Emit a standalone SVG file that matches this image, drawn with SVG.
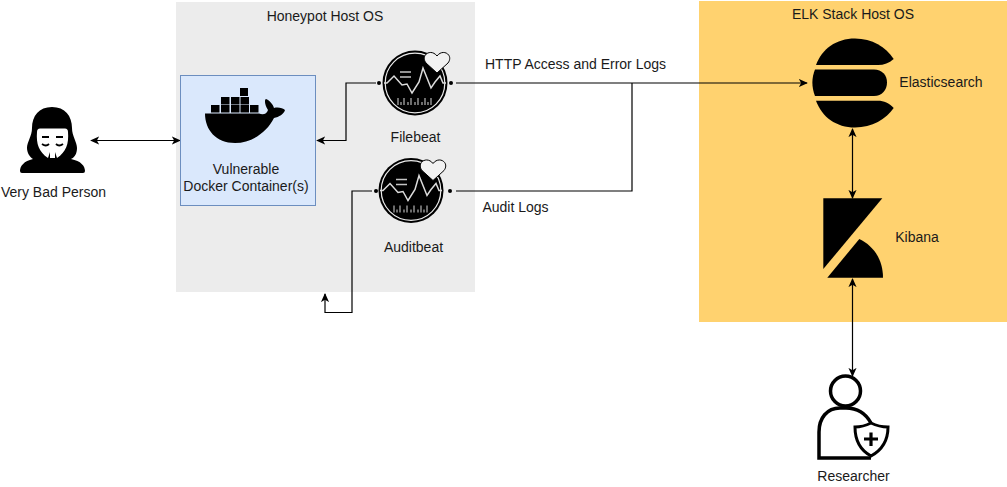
<svg xmlns="http://www.w3.org/2000/svg" xmlns:xlink="http://www.w3.org/1999/xlink" width="1007" height="487" viewBox="0 0 1007 487">
<style>
text{font-family:"Liberation Sans",Arial,sans-serif;font-size:14px;fill:#1a1a1a;text-anchor:middle}
.c{fill:none;stroke:#000;stroke-width:1.2}
</style>
<defs>
<marker id="a" viewBox="0 0 10 10" refX="9" refY="5" markerWidth="9" markerHeight="9" markerUnits="userSpaceOnUse" orient="auto-start-reverse"><path d="M0 0.5L10 5L0 9.5L2.5 5Z" fill="#000"/></marker>
<symbol id="beat" viewBox="-40 -36 80 72" overflow="visible">
<circle r="32.5" fill="#000"/>
<circle r="29.8" fill="none" stroke="#ececec" stroke-width="1.2"/>
<path d="M-30 0H-27L-20 -7L-12 2L-7 1L-2 10L5 -1L9 -15L13 -5L17 5L21 -1L26 -7L29 0H32" fill="none" stroke="#dcdcdc" stroke-width="1.5" transform="translate(-1 0)"/>
<path d="M-15 -11H-4M-15 -6H-4" stroke="#c4c4c4" stroke-width="1.5"/>
<path d="M-17 15V22M-14 19V22M-11 15V22M-7 19V22M-4 15V22M0 19V22M3 15V22M7 19V22M10 15V22M13 19V22M16 15V22" stroke="#d8d8d8" stroke-width="1"/>
<path d="M22 -10L11 -20C5 -28 16 -35 22 -27C28 -35 39 -28 33 -20Z" fill="#f2f2f2" stroke="#000" stroke-width="1"/>
</symbol>
</defs>
<rect id="honeypot-host" x="176" y="2" width="299" height="290" fill="#ececec"/>
<rect id="elk-host" x="699" y="1" width="308" height="321" fill="#ffd26f"/>
<g id="connectors">
<path class="c" marker-start="url(#a)" marker-end="url(#a)" d="M91 140.500H180"/>
<path class="c" marker-end="url(#a)" d="M376 83H346V140.500H317"/>
<path class="c" marker-end="url(#a)" d="M372 191H352V312.500H325V294"/>
<path class="c" marker-end="url(#a)" d="M456 83H807"/>
<path class="c" d="M456 191H632V83"/>
<path class="c" marker-start="url(#a)" marker-end="url(#a)" d="M852.500 129V198"/>
<path class="c" marker-start="url(#a)" marker-end="url(#a)" d="M852.500 279V376"/>
<circle cx="379" cy="83" r="2"/>
<circle cx="451" cy="83" r="2"/>
<circle cx="376" cy="191" r="2"/>
<circle cx="450" cy="191" r="2"/>
</g>
<g id="honeypot-label"><text x="325" y="21">Honeypot Host OS</text></g>
<g id="elk-label"><text x="853" y="19">ELK Stack Host OS</text></g>
<g id="very-bad-person">
<path d="M52 107C39 107 32 116 32 128C32 136 27 142 27 148C27 153 30 157 33 159C24 161 20 166 20 171Q20 173 22 173H83Q85 173 85 171C85 166 81 161 71 159C75 157 77 153 77 148C77 142 72 136 72 128C72 116 65 107 52 107Z" fill="#000"/>
<path d="M40 128.500H65Q68 128.500 68 132C69 144 66 152 57 158L55 152V158H50V152L48 158C39 152 36 144 37 132Q37 128.500 40 128.500Z" fill="#fff"/>
<path d="M42 137H49M56 137H63M42 144Q46 147 49 144M56 144Q59 147 63 144" fill="none" stroke="#000" stroke-width="1.800"/>
<text x="53.500" y="197">Very Bad Person</text>
</g>
<g id="docker-container">
<rect x="180.500" y="75.500" width="135" height="130" fill="#dae8fc" stroke="#6c8ebf"/>
<g fill="#000">
<rect x="240" y="88" width="8" height="8"/>
<rect x="221" y="97" width="8.500" height="7.500"/><rect x="231" y="97" width="8.500" height="7.500"/><rect x="240.500" y="97" width="8.500" height="7.500"/>
<rect x="211" y="105" width="8.500" height="7.500"/><rect x="221" y="105" width="8.500" height="7.500"/><rect x="231" y="105" width="8.500" height="7.500"/><rect x="240.500" y="105" width="8.500" height="7.500"/><rect x="250" y="105" width="8.500" height="7.500"/>
<path d="M205 113.500H259C263 115 267 114 268 110C265 105 264 100 266 99C269 100 273 104 274 108C278 107 283 108 285 110C284 114 279 117 274 118C267 132 252 143 235 143C216 143 205 130 205 113.500Z"/>
</g>
<text x="246" y="174">Vulnerable</text>
<text x="246" y="191">Docker Container(s)</text>
</g>
<g id="filebeat">
<use href="#beat" x="375" y="47" width="80" height="72"/>
<text x="415.500" y="142">Filebeat</text>
</g>
<g id="auditbeat">
<use href="#beat" x="371" y="154.500" width="80" height="72"/>
<text x="413.500" y="252">Auditbeat</text>
</g>
<g id="http-label"><text x="575.500" y="69">HTTP Access and Error Logs</text></g>
<g id="audit-label"><text x="515.500" y="212">Audit Logs</text></g>
<g id="elasticsearch">
<path d="M816 65C822 49 836 38.500 855 38.500C872 38.500 886 47 893.700 59C889 63 884 65 878 65Z" fill="#000"/>
<path d="M815 69.500H874C882 69.500 887 75 887 82.500C887 90 882 96 874 96H815C811.500 87 811.500 78 815 69.500Z" fill="#000"/>
<path d="M816 100.700H878C884 100.700 889 103 893.700 108C886 119 872 127.500 855 127.500C836 127.500 822 117 816 100.700Z" fill="#000"/>
<text x="941" y="87">Elasticsearch</text>
</g>
<g id="kibana">
<path d="M823.300 198.300H882.300L823.300 269Z" fill="#000"/>
<path d="M827.300 277.700L859.300 239C874 246 883 260 883 277.700Z" fill="#000"/>
<text x="917" y="242">Kibana</text>
</g>
<g id="researcher">
<circle cx="845.500" cy="391" r="15" fill="none" stroke="#000" stroke-width="3.500"/>
<path d="M871 423C866 414 858 408 846 408H840C827 408 819 418 819 432V458H871" fill="none" stroke="#000" stroke-width="3.500"/>
<path d="M871 423C865 426 860 427 855 427C855 441 860 450 871 456C882 450 888 441 888 427C882 427 877 426 871 423Z" fill="#fff" stroke="#000" stroke-width="3"/>
<path d="M871 432.500V446M864 439H878" stroke="#000" stroke-width="3.200"/>
<text x="853.500" y="481">Researcher</text>
</g>
</svg>
